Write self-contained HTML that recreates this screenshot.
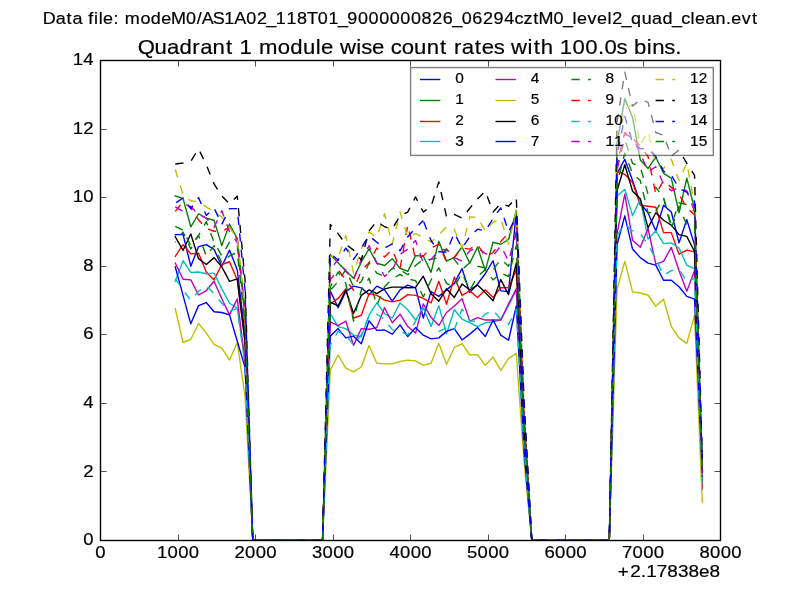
<!DOCTYPE html>
<html><head><meta charset="utf-8"><title>Quadrant 1 module wise count rates</title>
<style>html,body{margin:0;padding:0;background:#fff;}svg{display:block;}text{font-family:"Liberation Sans",sans-serif;fill:#000;stroke:#000;stroke-width:0.2px;stroke-linejoin:round;}</style></head><body>
<svg width="800" height="600" viewBox="0 0 800 600">
<rect x="0" y="0" width="800" height="600" fill="#ffffff"/>
<defs><clipPath id="ax"><rect x="100.5" y="60.5" width="620.0" height="480.0"/></clipPath></defs>
<g clip-path="url(#ax)" fill="none" stroke-width="1.389" stroke-linejoin="round">
<polyline points="175.29,234.67 183.04,234.33 190.79,266.21 198.54,246.67 206.29,244.61 214.04,249.41 221.79,266.21 229.54,250.10 237.29,269.99 245.04,334.79 252.79,540.50 260.54,540.50 268.29,540.50 276.04,540.50 283.79,540.50 291.54,540.50 299.29,540.50 307.04,540.50 314.79,540.50 322.54,540.50 330.29,290.90 338.04,307.70 345.79,291.59 353.54,286.10 361.29,287.81 369.04,294.67 376.79,286.10 384.54,289.87 392.29,301.19 400.04,289.87 407.79,285.07 415.54,287.81 423.29,317.99 431.04,291.59 438.79,296.39 446.54,289.87 454.29,283.36 462.04,268.61 469.79,292.61 477.54,284.04 485.29,273.76 493.04,260.73 500.79,290.90 508.54,291.59 516.29,211.36 524.04,423.93 531.79,540.50 539.54,540.50 547.29,540.50 555.04,540.50 562.79,540.50 570.54,540.50 578.29,540.50 586.04,540.50 593.79,540.50 601.54,540.50 609.29,540.50 617.04,173.64 624.79,159.24 632.54,180.50 640.29,203.47 648.04,212.73 655.79,230.90 663.54,205.19 671.29,212.04 679.04,242.90 686.79,219.59 694.54,244.96 702.29,468.50" stroke="#0000ff" stroke-linecap="square"/>
<polyline points="175.29,195.93 183.04,198.33 190.79,226.79 198.54,213.76 206.29,218.21 214.04,220.27 221.79,245.64 229.54,224.04 237.29,238.79 245.04,310.79 252.79,540.50 260.54,540.50 268.29,540.50 276.04,540.50 283.79,540.50 291.54,540.50 299.29,540.50 307.04,540.50 314.79,540.50 322.54,540.50 330.29,254.56 338.04,262.79 345.79,270.67 353.54,278.21 361.29,262.10 369.04,248.73 376.79,263.13 384.54,265.53 392.29,258.67 400.04,268.27 407.79,271.36 415.54,255.59 423.29,255.93 431.04,272.39 438.79,241.19 446.54,261.07 454.29,257.30 462.04,247.01 469.79,263.13 477.54,247.01 485.29,270.67 493.04,242.21 500.79,244.27 508.54,239.47 516.29,210.33 524.04,413.64 531.79,540.50 539.54,540.50 547.29,540.50 555.04,540.50 562.79,540.50 570.54,540.50 578.29,540.50 586.04,540.50 593.79,540.50 601.54,540.50 609.29,540.50 617.04,142.79 624.79,98.56 632.54,117.41 640.29,159.93 648.04,168.50 655.79,157.19 663.54,173.30 671.29,178.10 679.04,212.73 686.79,178.10 694.54,208.96 702.29,477.07" stroke="#008000" stroke-linecap="square"/>
<polyline points="175.29,256.27 183.04,244.61 190.79,253.87 198.54,253.19 206.29,272.04 214.04,279.93 221.79,264.50 229.54,261.76 237.29,279.93 245.04,341.64 252.79,540.50 260.54,540.50 268.29,540.50 276.04,540.50 283.79,540.50 291.54,540.50 299.29,540.50 307.04,540.50 314.79,540.50 322.54,540.50 330.29,303.93 338.04,298.44 345.79,288.84 353.54,317.99 361.29,315.24 369.04,293.64 376.79,295.36 384.54,300.16 392.29,301.87 400.04,300.16 407.79,294.67 415.54,295.36 423.29,298.44 431.04,302.90 438.79,281.30 446.54,304.27 454.29,277.19 462.04,295.36 469.79,290.90 477.54,297.41 485.29,289.87 493.04,297.41 500.79,287.81 508.54,287.47 516.29,269.64 524.04,434.21 531.79,540.50 539.54,540.50 547.29,540.50 555.04,540.50 562.79,540.50 570.54,540.50 578.29,540.50 586.04,540.50 593.79,540.50 601.54,540.50 609.29,540.50 617.04,171.24 624.79,174.33 632.54,182.56 640.29,205.19 648.04,206.21 655.79,207.24 663.54,232.61 671.29,232.61 679.04,254.21 686.79,250.10 694.54,251.81 702.29,487.36" stroke="#ff0000" stroke-linecap="square"/>
<polyline points="175.29,281.30 183.04,260.73 190.79,272.39 198.54,272.04 206.29,273.76 214.04,273.07 221.79,288.84 229.54,303.24 237.29,308.04 245.04,362.21 252.79,540.50 260.54,540.50 268.29,540.50 276.04,540.50 283.79,540.50 291.54,540.50 299.29,540.50 307.04,540.50 314.79,540.50 322.54,540.50 330.29,313.53 338.04,326.56 345.79,328.61 353.54,335.13 361.29,336.84 369.04,315.24 376.79,302.90 384.54,313.53 392.29,317.99 400.04,302.90 407.79,309.76 415.54,320.04 423.29,307.70 431.04,326.56 438.79,305.64 446.54,333.76 454.29,309.76 462.04,319.01 469.79,322.79 477.54,326.56 485.29,322.79 493.04,321.76 500.79,320.04 508.54,305.64 516.29,290.21 524.04,444.50 531.79,540.50 539.54,540.50 547.29,540.50 555.04,540.50 562.79,540.50 570.54,540.50 578.29,540.50 586.04,540.50 593.79,540.50 601.54,540.50 609.29,540.50 617.04,195.93 624.79,189.41 632.54,215.81 640.29,198.67 648.04,239.13 655.79,230.90 663.54,243.59 671.29,242.90 679.04,248.04 686.79,265.19 694.54,268.96 702.29,483.93" stroke="#00bfbf" stroke-linecap="square"/>
<polyline points="175.29,263.13 183.04,279.24 190.79,279.93 198.54,295.01 206.29,290.56 214.04,281.30 221.79,298.79 229.54,314.90 237.29,298.79 245.04,362.21 252.79,540.50 260.54,540.50 268.29,540.50 276.04,540.50 283.79,540.50 291.54,540.50 299.29,540.50 307.04,540.50 314.79,540.50 322.54,540.50 330.29,321.76 338.04,325.53 345.79,321.07 353.54,345.41 361.29,328.61 369.04,329.30 376.79,327.59 384.54,307.70 392.29,322.79 400.04,314.21 407.79,326.56 415.54,333.07 423.29,303.93 431.04,317.30 438.79,325.53 446.54,312.50 454.29,305.99 462.04,298.79 469.79,321.07 477.54,317.64 485.29,320.04 493.04,320.04 500.79,320.04 508.54,303.93 516.29,288.84 524.04,444.50 531.79,540.50 539.54,540.50 547.29,540.50 555.04,540.50 562.79,540.50 570.54,540.50 578.29,540.50 586.04,540.50 593.79,540.50 601.54,540.50 609.29,540.50 617.04,233.64 624.79,194.21 632.54,240.16 640.29,247.36 648.04,228.50 655.79,264.16 663.54,261.41 671.29,247.36 679.04,270.67 686.79,291.24 694.54,270.67 702.29,489.07" stroke="#bf00bf" stroke-linecap="square"/>
<polyline points="175.29,308.73 183.04,342.50 190.79,339.24 198.54,323.47 206.29,333.07 214.04,344.39 221.79,348.16 229.54,359.99 237.29,342.50 245.04,396.50 252.79,540.50 260.54,540.50 268.29,540.50 276.04,540.50 283.79,540.50 291.54,540.50 299.29,540.50 307.04,540.50 314.79,540.50 322.54,540.50 330.29,370.10 338.04,355.01 345.79,368.04 353.54,371.81 361.29,367.01 369.04,345.41 376.79,363.24 384.54,363.93 392.29,363.93 400.04,361.53 407.79,360.16 415.54,360.84 423.29,365.30 431.04,363.24 438.79,343.36 446.54,364.27 454.29,347.47 462.04,343.70 469.79,355.01 477.54,354.67 485.29,365.30 493.04,357.07 500.79,370.44 508.54,358.44 516.29,353.30 524.04,461.64 531.79,540.50 539.54,540.50 547.29,540.50 555.04,540.50 562.79,540.50 570.54,540.50 578.29,540.50 586.04,540.50 593.79,540.50 601.54,540.50 609.29,540.50 617.04,289.53 624.79,261.41 632.54,291.93 640.29,292.96 648.04,295.01 655.79,306.33 663.54,299.13 671.29,326.56 679.04,337.87 686.79,343.36 694.54,315.24 702.29,502.44" stroke="#bfbf00" stroke-linecap="square"/>
<polyline points="175.29,236.73 183.04,250.44 190.79,233.99 198.54,258.67 206.29,264.50 214.04,257.64 221.79,266.90 229.54,281.30 237.29,278.90 245.04,341.64 252.79,540.50 260.54,540.50 268.29,540.50 276.04,540.50 283.79,540.50 291.54,540.50 299.29,540.50 307.04,540.50 314.79,540.50 322.54,540.50 330.29,302.21 338.04,305.99 345.79,289.87 353.54,313.53 361.29,295.36 369.04,289.87 376.79,293.64 384.54,288.84 392.29,287.13 400.04,287.13 407.79,287.81 415.54,287.47 423.29,276.16 431.04,293.64 438.79,301.19 446.54,288.84 454.29,297.41 462.04,284.04 469.79,289.87 477.54,285.07 485.29,292.61 493.04,300.84 500.79,279.59 508.54,294.67 516.29,262.79 524.04,427.36 531.79,540.50 539.54,540.50 547.29,540.50 555.04,540.50 562.79,540.50 570.54,540.50 578.29,540.50 586.04,540.50 593.79,540.50 601.54,540.50 609.29,540.50 617.04,190.79 624.79,164.73 632.54,191.13 640.29,198.67 648.04,227.81 655.79,212.73 663.54,220.27 671.29,225.07 679.04,234.67 686.79,236.39 694.54,251.47 702.29,461.64" stroke="#000000" stroke-linecap="square"/>
<polyline points="175.29,266.90 183.04,295.36 190.79,323.81 198.54,305.64 206.29,302.56 214.04,311.81 221.79,312.50 229.54,314.90 237.29,341.30 245.04,367.36 252.79,540.50 260.54,540.50 268.29,540.50 276.04,540.50 283.79,540.50 291.54,540.50 299.29,540.50 307.04,540.50 314.79,540.50 322.54,540.50 330.29,336.16 338.04,328.61 345.79,337.87 353.54,336.16 361.29,343.70 369.04,320.73 376.79,330.33 384.54,329.99 392.29,334.10 400.04,324.84 407.79,336.50 415.54,327.59 423.29,335.13 431.04,338.90 438.79,337.87 446.54,331.36 454.29,328.61 462.04,339.93 469.79,334.10 477.54,327.59 485.29,336.50 493.04,320.04 500.79,335.13 508.54,340.27 516.29,305.99 524.04,451.36 531.79,540.50 539.54,540.50 547.29,540.50 555.04,540.50 562.79,540.50 570.54,540.50 578.29,540.50 586.04,540.50 593.79,540.50 601.54,540.50 609.29,540.50 617.04,244.96 624.79,215.81 632.54,249.07 640.29,257.64 648.04,263.13 655.79,265.19 663.54,280.27 671.29,280.27 679.04,286.79 686.79,296.39 694.54,299.13 702.29,471.93" stroke="#0000ff" stroke-linecap="square"/>
<polyline points="175.29,226.44 183.04,230.21 190.79,245.64 198.54,235.36 206.29,221.64 214.04,242.21 221.79,255.93 229.54,242.21 237.29,245.64 245.04,317.64 252.79,540.50 260.54,540.50 268.29,540.50 276.04,540.50 283.79,540.50 291.54,540.50 299.29,540.50 307.04,540.50 314.79,540.50 322.54,540.50 330.29,290.21 338.04,281.64 345.79,269.64 353.54,286.79 361.29,281.64 369.04,262.79 376.79,273.07 384.54,276.50 392.29,268.27 400.04,269.64 407.79,274.79 415.54,265.53 423.29,259.36 431.04,259.36 438.79,257.64 446.54,249.07 454.29,259.36 462.04,269.64 469.79,262.79 477.54,266.21 485.29,267.93 493.04,269.64 500.79,259.36 508.54,266.21 516.29,231.93 524.04,420.50 531.79,540.50 539.54,540.50 547.29,540.50 555.04,540.50 562.79,540.50 570.54,540.50 578.29,540.50 586.04,540.50 593.79,540.50 601.54,540.50 609.29,540.50 617.04,166.79 624.79,139.36 632.54,163.36 640.29,166.79 648.04,194.21 655.79,187.36 663.54,197.64 671.29,225.07 679.04,202.79 686.79,204.50 694.54,211.36 702.29,477.07" stroke="#008000" stroke-dasharray="8.333 8.333" stroke-linecap="butt"/>
<polyline points="175.29,211.36 183.04,201.76 190.79,207.93 198.54,219.93 206.29,228.50 214.04,231.24 221.79,231.24 229.54,227.47 237.29,239.13 245.04,314.21 252.79,540.50 260.54,540.50 268.29,540.50 276.04,540.50 283.79,540.50 291.54,540.50 299.29,540.50 307.04,540.50 314.79,540.50 322.54,540.50 330.29,279.93 338.04,269.64 345.79,279.93 353.54,290.21 361.29,270.67 369.04,262.79 376.79,248.04 384.54,256.96 392.29,249.76 400.04,268.61 407.79,225.07 415.54,259.36 423.29,255.93 431.04,248.04 438.79,244.27 446.54,262.10 454.29,257.30 462.04,248.04 469.79,249.07 477.54,244.27 485.29,256.61 493.04,252.50 500.79,241.53 508.54,232.96 516.29,218.21 524.04,410.21 531.79,540.50 539.54,540.50 547.29,540.50 555.04,540.50 562.79,540.50 570.54,540.50 578.29,540.50 586.04,540.50 593.79,540.50 601.54,540.50 609.29,540.50 617.04,163.36 624.79,132.50 632.54,137.64 640.29,146.21 648.04,156.50 655.79,194.21 663.54,180.50 671.29,187.36 679.04,194.21 686.79,207.93 694.54,214.79 702.29,475.36" stroke="#ff0000" stroke-dasharray="8.333 8.333" stroke-linecap="butt"/>
<polyline points="175.29,278.90 183.04,289.87 190.79,300.50 198.54,291.24 206.29,285.76 214.04,293.64 221.79,303.24 229.54,311.13 237.29,308.39 245.04,365.64 252.79,540.50 260.54,540.50 268.29,540.50 276.04,540.50 283.79,540.50 291.54,540.50 299.29,540.50 307.04,540.50 314.79,540.50 322.54,540.50 330.29,345.07 338.04,331.36 345.79,334.79 353.54,345.07 361.29,334.79 369.04,315.93 376.79,314.21 384.54,319.36 392.29,329.64 400.04,331.36 407.79,334.79 415.54,321.07 423.29,307.36 431.04,326.21 438.79,331.36 446.54,327.93 454.29,329.64 462.04,309.07 469.79,321.07 477.54,321.07 485.29,314.21 493.04,310.10 500.79,319.36 508.54,324.50 516.29,309.07 524.04,447.93 531.79,540.50 539.54,540.50 547.29,540.50 555.04,540.50 562.79,540.50 570.54,540.50 578.29,540.50 586.04,540.50 593.79,540.50 601.54,540.50 609.29,540.50 617.04,235.36 624.79,224.04 632.54,230.90 640.29,233.64 648.04,244.61 655.79,258.67 663.54,275.47 671.29,270.67 679.04,268.96 686.79,281.99 694.54,278.21 702.29,483.93" stroke="#00bfbf" stroke-dasharray="8.333 8.333" stroke-linecap="butt"/>
<polyline points="175.29,206.90 183.04,211.36 190.79,206.21 198.54,214.79 206.29,218.21 214.04,227.47 221.79,210.67 229.54,231.93 237.29,242.21 245.04,314.21 252.79,540.50 260.54,540.50 268.29,540.50 276.04,540.50 283.79,540.50 291.54,540.50 299.29,540.50 307.04,540.50 314.79,540.50 322.54,540.50 330.29,269.64 338.04,259.36 345.79,271.36 353.54,279.93 361.29,259.36 369.04,245.64 376.79,262.79 384.54,276.50 392.29,269.64 400.04,254.21 407.79,249.07 415.54,240.50 423.29,262.79 431.04,259.36 438.79,250.79 446.54,249.07 454.29,257.64 462.04,261.07 469.79,250.79 477.54,247.36 485.29,253.53 493.04,255.93 500.79,245.64 508.54,261.07 516.29,231.93 524.04,417.07 531.79,540.50 539.54,540.50 547.29,540.50 555.04,540.50 562.79,540.50 570.54,540.50 578.29,540.50 586.04,540.50 593.79,540.50 601.54,540.50 609.29,540.50 617.04,170.21 624.79,134.21 632.54,137.64 640.29,153.07 648.04,171.93 655.79,166.79 663.54,183.93 671.29,190.79 679.04,187.36 686.79,190.79 694.54,211.36 702.29,473.64" stroke="#bf00bf" stroke-dasharray="8.333 8.333" stroke-linecap="butt"/>
<polyline points="175.29,169.53 183.04,194.90 190.79,200.73 198.54,202.10 206.29,206.90 214.04,212.04 221.79,216.84 229.54,227.47 237.29,239.13 245.04,310.79 252.79,540.50 260.54,540.50 268.29,540.50 276.04,540.50 283.79,540.50 291.54,540.50 299.29,540.50 307.04,540.50 314.79,540.50 322.54,540.50 330.29,255.93 338.04,257.64 345.79,235.70 353.54,273.07 361.29,249.07 369.04,231.93 376.79,237.41 384.54,213.76 392.29,244.27 400.04,212.04 407.79,237.41 415.54,233.64 423.29,237.41 431.04,242.21 438.79,234.67 446.54,226.79 454.29,229.19 462.04,248.04 469.79,216.84 477.54,217.53 485.29,230.90 493.04,222.33 500.79,218.56 508.54,244.27 516.29,210.33 524.04,406.79 531.79,540.50 539.54,540.50 547.29,540.50 555.04,540.50 562.79,540.50 570.54,540.50 578.29,540.50 586.04,540.50 593.79,540.50 601.54,540.50 609.29,540.50 617.04,146.21 624.79,108.50 632.54,105.07 640.29,144.84 648.04,131.47 655.79,163.70 663.54,168.50 671.29,159.24 679.04,180.84 686.79,163.01 694.54,204.50 702.29,468.50" stroke="#bfbf00" stroke-dasharray="8.333 8.333" stroke-linecap="butt"/>
<polyline points="175.29,164.04 183.04,163.01 190.79,161.30 198.54,148.96 206.29,164.73 214.04,183.93 221.79,195.93 229.54,203.81 237.29,196.27 245.04,279.93 252.79,540.50 260.54,540.50 268.29,540.50 276.04,540.50 283.79,540.50 291.54,540.50" stroke="#000000" stroke-dasharray="8.333 8.333" stroke-dashoffset="0.000" stroke-linecap="butt"/>
<polyline points="291.54,540.50 299.29,540.50 307.04,540.50 314.79,540.50 322.54,540.50 330.29,224.39 338.04,233.64 345.79,244.27 353.54,250.10 361.29,260.04 369.04,230.90 376.79,221.30 384.54,226.79 392.29,228.84 400.04,215.81 407.79,212.04 415.54,196.96 423.29,212.04 431.04,206.56 438.79,181.87 446.54,216.84 454.29,214.44 462.04,218.21 469.79,208.27 477.54,199.01 485.29,191.13 493.04,212.04 500.79,203.47 508.54,206.21 516.29,197.64 524.04,399.93 531.79,540.50 539.54,540.50 547.29,540.50 555.04,540.50 562.79,540.50 570.54,540.50" stroke="#000000" stroke-dasharray="8.333 8.333" stroke-dashoffset="8.477" stroke-linecap="butt"/>
<polyline points="570.54,540.50 578.29,540.50 586.04,540.50 593.79,540.50 601.54,540.50 609.29,540.50 617.04,122.21 624.79,72.16 632.54,106.10 640.29,99.59 648.04,102.33 655.79,132.50 663.54,135.24 671.29,156.16 679.04,149.99 686.79,163.36 694.54,175.36 702.29,459.93" stroke="#000000" stroke-dasharray="8.333 8.333" stroke-dashoffset="9.385" stroke-linecap="butt"/>
<polyline points="175.29,203.13 183.04,197.99 190.79,208.61 198.54,197.64 206.29,215.47 214.04,207.93 221.79,224.39 229.54,208.61 237.29,208.61 245.04,290.21 252.79,540.50 260.54,540.50 268.29,540.50 276.04,540.50 283.79,540.50 291.54,540.50" stroke="#0000ff" stroke-dasharray="8.333 8.333" stroke-dashoffset="15.625" stroke-linecap="butt"/>
<polyline points="291.54,540.50 299.29,540.50 307.04,540.50 314.79,540.50 322.54,540.50 330.29,253.53 338.04,260.04 345.79,248.04 353.54,259.36 361.29,248.04 369.04,235.70 376.79,242.21 384.54,248.04 392.29,243.93 400.04,250.79 407.79,236.73 415.54,228.16 423.29,220.61" stroke="#0000ff" stroke-dasharray="8.333 8.333" stroke-dashoffset="11.335" stroke-linecap="butt"/>
<polyline points="423.29,220.61 431.04,240.50 438.79,251.81 446.54,252.16 454.29,232.96 462.04,248.04 469.79,236.73 477.54,229.19 485.29,230.90 493.04,218.56 500.79,207.93 508.54,231.93 516.29,215.81 524.04,406.79 531.79,540.50 539.54,540.50 547.29,540.50 555.04,540.50 562.79,540.50 570.54,540.50" stroke="#0000ff" stroke-dasharray="8.333 8.333" stroke-dashoffset="15.564" stroke-linecap="butt"/>
<polyline points="570.54,540.50 578.29,540.50 586.04,540.50 593.79,540.50 601.54,540.50 609.29,540.50 617.04,156.50 624.79,116.39 632.54,142.79 640.29,148.61 648.04,148.61 655.79,156.50" stroke="#0000ff" stroke-dasharray="8.333 8.333" stroke-dashoffset="3.597" stroke-linecap="butt"/>
<polyline points="655.79,156.50 663.54,171.24 671.29,175.01 679.04,188.39 686.79,192.16 694.54,201.41 702.29,465.07" stroke="#0000ff" stroke-dasharray="8.333 8.333" stroke-dashoffset="6.563" stroke-linecap="butt"/>
<polyline points="175.29,242.21 183.04,231.93 190.79,249.07 198.54,235.36 206.29,255.93 214.04,245.64 221.79,262.79 229.54,255.93 237.29,252.50 245.04,324.50 252.79,540.50 260.54,540.50 268.29,540.50 276.04,540.50 283.79,540.50 291.54,540.50" stroke="#008000" stroke-dasharray="8.333 8.333" stroke-dashoffset="7.504" stroke-linecap="butt"/>
<polyline points="291.54,540.50 299.29,540.50 307.04,540.50 314.79,540.50 322.54,540.50 330.29,286.79 338.04,272.04 345.79,283.36 353.54,321.07 361.29,290.21 369.04,278.21 376.79,305.64 384.54,286.79 392.29,278.90 400.04,274.44 407.79,278.90 415.54,280.61 423.29,297.07" stroke="#008000" stroke-dasharray="8.333 8.333" stroke-dashoffset="2.994" stroke-linecap="butt"/>
<polyline points="423.29,297.07 431.04,279.93 438.79,267.93 446.54,283.36 454.29,286.79 462.04,273.07 469.79,290.21 477.54,276.50 485.29,269.64 493.04,279.93 500.79,273.07 508.54,276.50 516.29,245.64 524.04,423.93 531.79,540.50 539.54,540.50 547.29,540.50 555.04,540.50 562.79,540.50 570.54,540.50" stroke="#008000" stroke-dasharray="8.333 8.333" stroke-dashoffset="4.476" stroke-linecap="butt"/>
<polyline points="570.54,540.50 578.29,540.50 586.04,540.50 593.79,540.50 601.54,540.50 609.29,540.50 617.04,183.93 624.79,153.07 632.54,173.64 640.29,180.50 648.04,213.07 655.79,211.36" stroke="#008000" stroke-dasharray="8.333 8.333" stroke-dashoffset="11.927" stroke-linecap="butt"/>
<polyline points="655.79,211.36 663.54,197.64 671.29,228.50 679.04,206.21 686.79,225.07 694.54,225.07 702.29,477.07" stroke="#008000" stroke-dasharray="8.333 8.333" stroke-dashoffset="0.677" stroke-linecap="butt"/>
</g>
<path d="M100.50 540.50v-6.0M100.50 60.50v6.0M178.50 540.50v-6.0M178.50 60.50v6.0M255.50 540.50v-6.0M255.50 60.50v6.0M333.50 540.50v-6.0M333.50 60.50v6.0M410.50 540.50v-6.0M410.50 60.50v6.0M488.50 540.50v-6.0M488.50 60.50v6.0M565.50 540.50v-6.0M565.50 60.50v6.0M643.50 540.50v-6.0M643.50 60.50v6.0M720.50 540.50v-6.0M720.50 60.50v6.0M100.50 540.50h6.0M720.50 540.50h-6.0M100.50 471.50h6.0M720.50 471.50h-6.0M100.50 403.50h6.0M720.50 403.50h-6.0M100.50 334.50h6.0M720.50 334.50h-6.0M100.50 266.50h6.0M720.50 266.50h-6.0M100.50 197.50h6.0M720.50 197.50h-6.0M100.50 129.50h6.0M720.50 129.50h-6.0M100.50 60.50h6.0M720.50 60.50h-6.0" stroke="#000" stroke-width="0.69" fill="none"/>
<rect x="100.5" y="60.5" width="620.0" height="480.0" fill="none" stroke="#000" stroke-width="1.39"/>
<g style="filter:grayscale(1)">
<text transform="translate(95.20 558.10) scale(1.0987 1)" x="0.14" y="0" font-size="16.83">0</text>
<text transform="translate(156.79 558.10) scale(1.0987 1)" x="0.14 9.80 19.45 29.10" y="0" font-size="16.83">1000</text>
<text transform="translate(234.29 558.10) scale(1.0987 1)" x="0.14 9.80 19.45 29.10" y="0" font-size="16.83">2000</text>
<text transform="translate(311.79 558.10) scale(1.0987 1)" x="0.14 9.80 19.45 29.10" y="0" font-size="16.83">3000</text>
<text transform="translate(389.29 558.10) scale(1.0987 1)" x="0.14 9.80 19.45 29.10" y="0" font-size="16.83">4000</text>
<text transform="translate(466.79 558.10) scale(1.0987 1)" x="0.14 9.80 19.45 29.10" y="0" font-size="16.83">5000</text>
<text transform="translate(544.29 558.10) scale(1.0987 1)" x="0.14 9.80 19.45 29.10" y="0" font-size="16.83">6000</text>
<text transform="translate(621.79 558.10) scale(1.0987 1)" x="0.14 9.80 19.45 29.10" y="0" font-size="16.83">7000</text>
<text transform="translate(699.29 558.10) scale(1.0987 1)" x="0.14 9.80 19.45 29.10" y="0" font-size="16.83">8000</text>
<text transform="translate(83.20 545.10) scale(1.0987 1)" x="0.14" y="0" font-size="16.83">0</text>
<text transform="translate(83.20 476.53) scale(1.0987 1)" x="0.14" y="0" font-size="16.83">2</text>
<text transform="translate(83.20 407.96) scale(1.0987 1)" x="0.14" y="0" font-size="16.83">4</text>
<text transform="translate(83.20 339.39) scale(1.0987 1)" x="0.14" y="0" font-size="16.83">6</text>
<text transform="translate(83.20 270.81) scale(1.0987 1)" x="0.14" y="0" font-size="16.83">8</text>
<text transform="translate(72.59 202.24) scale(1.0987 1)" x="0.14 9.80" y="0" font-size="16.83">10</text>
<text transform="translate(72.59 133.67) scale(1.0987 1)" x="0.14 9.80" y="0" font-size="16.83">12</text>
<text transform="translate(72.59 65.10) scale(1.0987 1)" x="0.14 9.80" y="0" font-size="16.83">14</text>
<text transform="translate(616.25 577.30) scale(1.1256 1)" x="1.29 12.44 21.84 26.56 35.99 45.41 54.83 64.25 73.51 82.78" y="0" font-size="16.83">+2.17838e8</text>
<text transform="translate(138.58 53.50) scale(1.0539 1)" x="-0.70 15.11 26.94 38.78 51.04 58.42 70.25 82.90 89.64 95.77 107.75 114.18 132.13 143.96 156.00 168.15 173.12 184.90 191.01 206.66 211.32 221.51 233.29 239.19 249.62 261.44 273.47 286.12 292.86 299.20 306.57 319.03 325.66 337.04 347.33 353.44 369.09 374.86 381.67 393.62 399.75 411.83 423.90 435.88 442.01 453.58 463.87 469.99 482.15 487.30 498.85 509.14" y="0" font-size="21.00">Quadrant 1 module wise count rates with 100.0s bins.</text>
<text transform="translate(42.75 23.80) scale(1.0791 1)" x="-0.07 11.99 22.07 27.51 37.02 42.19 47.52 51.81 55.92 65.60 70.65 76.00 90.56 100.19 109.84 118.94 132.83 142.66 147.30 157.49 168.23 177.50 188.62 198.45 207.22 216.00 225.82 235.65 244.82 254.91 264.74 273.51 282.29 292.11 301.94 311.77 321.59 331.42 341.25 351.07 360.90 370.73 379.50 388.28 398.10 407.93 417.76 427.58 437.21 445.51 454.44 459.51 473.39 482.17 490.96 495.07 504.86 513.71 523.39 527.67 536.44 545.20 555.00 564.63 574.26 583.03 591.60 600.31 604.42 613.90 623.53 633.20 638.09 647.88 657.33" y="0" font-size="16.67">Data file: modeM0/AS1A02_118T01_9000000826_06294cztM0_level2_quad_clean.evt</text>
</g>
<rect x="410.60" y="67.55" width="302.70" height="87.85" fill="#ffffff" fill-opacity="0.5" stroke="#000000" stroke-opacity="0.5" stroke-width="1.39"/>
<g fill="none" stroke-width="1.389">
<path d="M420.00 79.50h20.3" stroke="#0000ff"/>
<path d="M420.00 100.50h20.3" stroke="#008000"/>
<path d="M420.00 121.50h20.3" stroke="#ff0000"/>
<path d="M420.00 141.50h20.3" stroke="#00bfbf"/>
<path d="M495.50 79.50h20.3" stroke="#bf00bf"/>
<path d="M495.50 100.50h20.3" stroke="#bfbf00"/>
<path d="M495.50 121.50h20.3" stroke="#000000"/>
<path d="M495.50 141.50h20.3" stroke="#0000ff"/>
<path d="M571.40 79.50h19.3" stroke="#008000" stroke-dasharray="8.333 8.333"/>
<path d="M571.40 100.50h19.3" stroke="#ff0000" stroke-dasharray="8.333 8.333"/>
<path d="M571.40 121.50h19.3" stroke="#00bfbf" stroke-dasharray="8.333 8.333"/>
<path d="M571.40 141.50h19.3" stroke="#bf00bf" stroke-dasharray="8.333 8.333"/>
<path d="M655.60 79.50h19.3" stroke="#bfbf00" stroke-dasharray="8.333 8.333"/>
<path d="M655.60 100.50h19.3" stroke="#000000" stroke-dasharray="8.333 8.333"/>
<path d="M655.60 121.50h19.3" stroke="#0000ff" stroke-dasharray="8.333 8.333"/>
<path d="M655.60 141.50h19.3" stroke="#008000" stroke-dasharray="8.333 8.333"/>
</g>
<g style="filter:grayscale(1)">
<text transform="translate(455.00 83.10) scale(1.0987 1)" x="0.12" y="0" font-size="14.03">0</text>
<text transform="translate(455.00 103.90) scale(1.0987 1)" x="0.12" y="0" font-size="14.03">1</text>
<text transform="translate(455.00 124.70) scale(1.0987 1)" x="0.12" y="0" font-size="14.03">2</text>
<text transform="translate(455.00 145.50) scale(1.0987 1)" x="0.12" y="0" font-size="14.03">3</text>
<text transform="translate(530.60 83.10) scale(1.0987 1)" x="0.12" y="0" font-size="14.03">4</text>
<text transform="translate(530.60 103.90) scale(1.0987 1)" x="0.12" y="0" font-size="14.03">5</text>
<text transform="translate(530.60 124.70) scale(1.0987 1)" x="0.12" y="0" font-size="14.03">6</text>
<text transform="translate(530.60 145.50) scale(1.0987 1)" x="0.12" y="0" font-size="14.03">7</text>
<text transform="translate(605.40 83.10) scale(1.0987 1)" x="0.12" y="0" font-size="14.03">8</text>
<text transform="translate(605.40 103.90) scale(1.0987 1)" x="0.12" y="0" font-size="14.03">9</text>
<text transform="translate(605.40 124.70) scale(1.0987 1)" x="0.12 8.16" y="0" font-size="14.03">10</text>
<text transform="translate(605.40 145.50) scale(1.1772 1)" x="-0.15 7.36" y="0" font-size="14.03">11</text>
<text transform="translate(689.90 83.10) scale(1.0987 1)" x="0.12 8.16" y="0" font-size="14.03">12</text>
<text transform="translate(689.90 103.90) scale(1.0987 1)" x="0.12 8.16" y="0" font-size="14.03">13</text>
<text transform="translate(689.90 124.70) scale(1.0987 1)" x="0.12 8.16" y="0" font-size="14.03">14</text>
<text transform="translate(689.90 145.50) scale(1.0987 1)" x="0.12 8.16" y="0" font-size="14.03">15</text>
</g>
</svg></body></html>
